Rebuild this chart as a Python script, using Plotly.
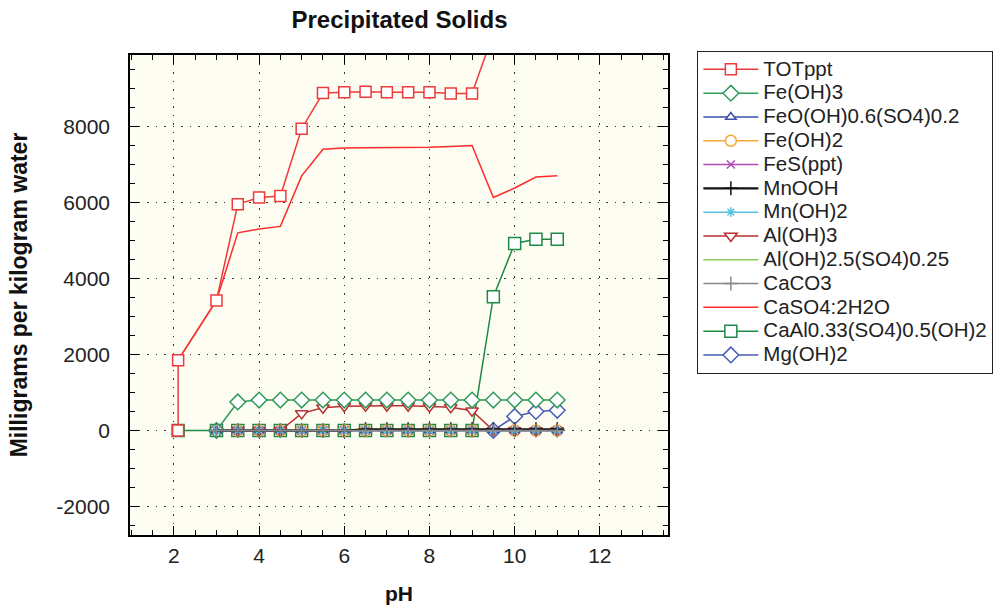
import plotly.graph_objects as go

# ---- data ----
ph_tot = [2.1, 2.1, 3, 3.5, 4, 4.5, 5, 5.5, 6, 6.5, 7, 7.5, 8, 8.5, 9, 9.5, 10, 10.5, 11]
tot_ppt = [0, 1850, 3420, 5950, 6130, 6170, 7940, 8880, 8900, 8910, 8900, 8900, 8900, 8870, 8870, 10450, 12500, 13050, 13100]

ph_main = [3, 3.5, 4, 4.5, 5, 5.5, 6, 6.5, 7, 7.5, 8, 8.5, 9, 9.5, 10, 10.5, 11]
fe_oh3 = [0, 750, 800, 800, 800, 800, 800, 800, 800, 800, 800, 800, 800, 800, 800, 800, 800]
feooh_so4 = [0] * 17
fe_oh2 = [0] * 17
fes_ppt = [0] * 17
mnooh = [0, 0, 0, 0, 0, 0, 0, 30, 30, 30, 30, 30, 30, 30, 30, 30, 30]
mn_oh2 = [0] * 17
al_oh3 = [0, 0, 0, 0, 450, 600, 640, 650, 650, 650, 630, 610, 520, 0, 0, 0, 0]
al_oh25_so4 = [0] * 17
caco3 = [0] * 17

ph_mg = [9.5, 10, 10.5, 11]
mg_oh2 = [0, 370, 500, 530]

ph_caso4 = [2.1, 3, 3.5, 4, 4.5, 5, 5.5, 6, 6.5, 7, 7.5, 8, 8.5, 9, 9.5, 10, 10.5, 11]
caso4 = [1850, 3420, 5200, 5300, 5370, 6700, 7400, 7430, 7440, 7440, 7440, 7450, 7470, 7500, 6130, 6380, 6670, 6700]

ph_caal = [2.1, 3, 3.5, 4, 4.5, 5, 5.5, 6, 6.5, 7, 7.5, 8, 8.5, 9, 9.5, 10, 10.5, 11]
caal = [0, 0, 0, 0, 0, 0, 0, 0, 0, 0, 0, 0, 0, 0, 3520, 4920, 5030, 5030]

y_tickvals = [-2000, 0, 2000, 4000, 6000, 8000]
y_ticktext = ["-2000", "0", "2000", "4000", "6000", "8000"]
x_tickvals = [2, 4, 6, 8, 10, 12]
x_ticktext = ["2", "4", "6", "8", "10", "12"]

FONT = "Arial, Liberation Sans, sans-serif"

# name, x, y, colour, symbol, size, draw order
series = [
    ("TOTppt", ph_tot, tot_ppt, "#ee3a3a", "square", 11, 13),
    ("Fe(OH)3", ph_main, fe_oh3, "#2f9a5c", "diamond", 12, 5),
    ("FeO(OH)0.6(SO4)0.2", ph_main, feooh_so4, "#3b4ea8", "triangle-up", 9, 7),
    ("Fe(OH)2", ph_main, fe_oh2, "#f5a833", "circle", 11, 2),
    ("FeS(ppt)", ph_main, fes_ppt, "#b448b4", "x-thin", 8, 8),
    ("MnOOH", ph_main, mnooh, "#111111", "cross-thin", 10, 10),
    ("Mn(OH)2", ph_main, mn_oh2, "#58c4df", "asterisk-open", 8, 9),
    ("Al(OH)3", ph_main, al_oh3, "#b83030", "triangle-down", 11, 4),
    ("Al(OH)2.5(SO4)0.25", ph_main, al_oh25_so4, "#8ccc5a", None, 0, 6),
    ("CaCO3", ph_main, caco3, "#888888", "cross-thin", 10, 11),
    ("CaSO4:2H2O", ph_caso4, caso4, "#ff2a2a", None, 0, 12),
    ("CaAl0.33(SO4)0.5(OH)2", ph_caal, caal, "#1f8a45", "square", 12, 1),
    ("Mg(OH)2", ph_mg, mg_oh2, "#4a5cb5", "diamond", 12, 3),
]

traces = []
for rank, (name, xs, ys, col, sym, size, order) in enumerate(series, start=1):
    lw = 2.2 if name == "MnOOH" else 1.5
    label = f"<span style='font-size:20.5px'>{name}</span>"
    if sym is None:
        tr = go.Scatter(x=xs, y=ys, name=label, mode="lines",
                        line=dict(color=col, width=lw), legendrank=rank)
    else:
        thin = ("thin" in sym) or ("asterisk" in sym)
        marker = dict(symbol=sym, size=size,
                      color=col if thin else "white",
                      line=dict(color=col, width=1.5))
        tr = go.Scatter(x=xs, y=ys, name=label, mode="lines+markers",
                        line=dict(color=col, width=lw), marker=marker,
                        legendrank=rank)
    traces.append((order, tr))

fig = go.Figure()
for _, tr in sorted(traces, key=lambda t: t[0]):
    fig.add_trace(tr)

axis_common = dict(
    showline=True, linecolor="black", linewidth=1.5, mirror="ticks",
    ticks="inside", ticklen=9, tickwidth=1.2, tickcolor="black",
    showgrid=True, gridcolor="#333333", gridwidth=1.3, griddash="1.5px,7px",
    zeroline=False, automargin=False,
    tickfont=dict(family=FONT, size=21, color="#222222"),
)

fig.update_xaxes(
    range=[0.97, 13.6], tickvals=x_tickvals, ticktext=x_ticktext,
    minor=dict(dtick=0.5, tick0=0, ticks="inside", ticklen=5, tickcolor="black", showgrid=False),
    title=dict(text="<b>pH</b>", font=dict(family=FONT, size=21, color="#111111"), standoff=20),
    ticklabelstandoff=1,
    **axis_common,
)
fig.update_yaxes(
    range=[-2750, 9880], tickvals=y_tickvals, ticktext=y_ticktext,
    minor=dict(dtick=500, tick0=0, ticks="inside", ticklen=5, tickcolor="black", showgrid=False),
    title=dict(text="<b>Milligrams per kilogram water</b>", font=dict(family=FONT, size=23, color="#111111"), standoff=22),
    ticklabelstandoff=14,
    **axis_common,
)

fig.update_layout(
    width=1005, height=612,
    margin=dict(l=130, r=337, t=55, b=77),
    paper_bgcolor="white",
    plot_bgcolor="#fdfdf2",
    title=dict(text="<b>Precipitated Solids</b>", x=0.3975, xanchor="center",
               y=0.968, yanchor="middle",
               font=dict(family=FONT, size=24, color="#111111")),
    legend=dict(x=1.054, y=1.008, xanchor="left", yanchor="top",
                bgcolor="white", bordercolor="#222222", borderwidth=1.3,
                font=dict(family=FONT, size=16, color="#222222"),
                tracegroupgap=0, itemwidth=55, maxheight=500),
    showlegend=True,
)

fig.write_html("out.html")
